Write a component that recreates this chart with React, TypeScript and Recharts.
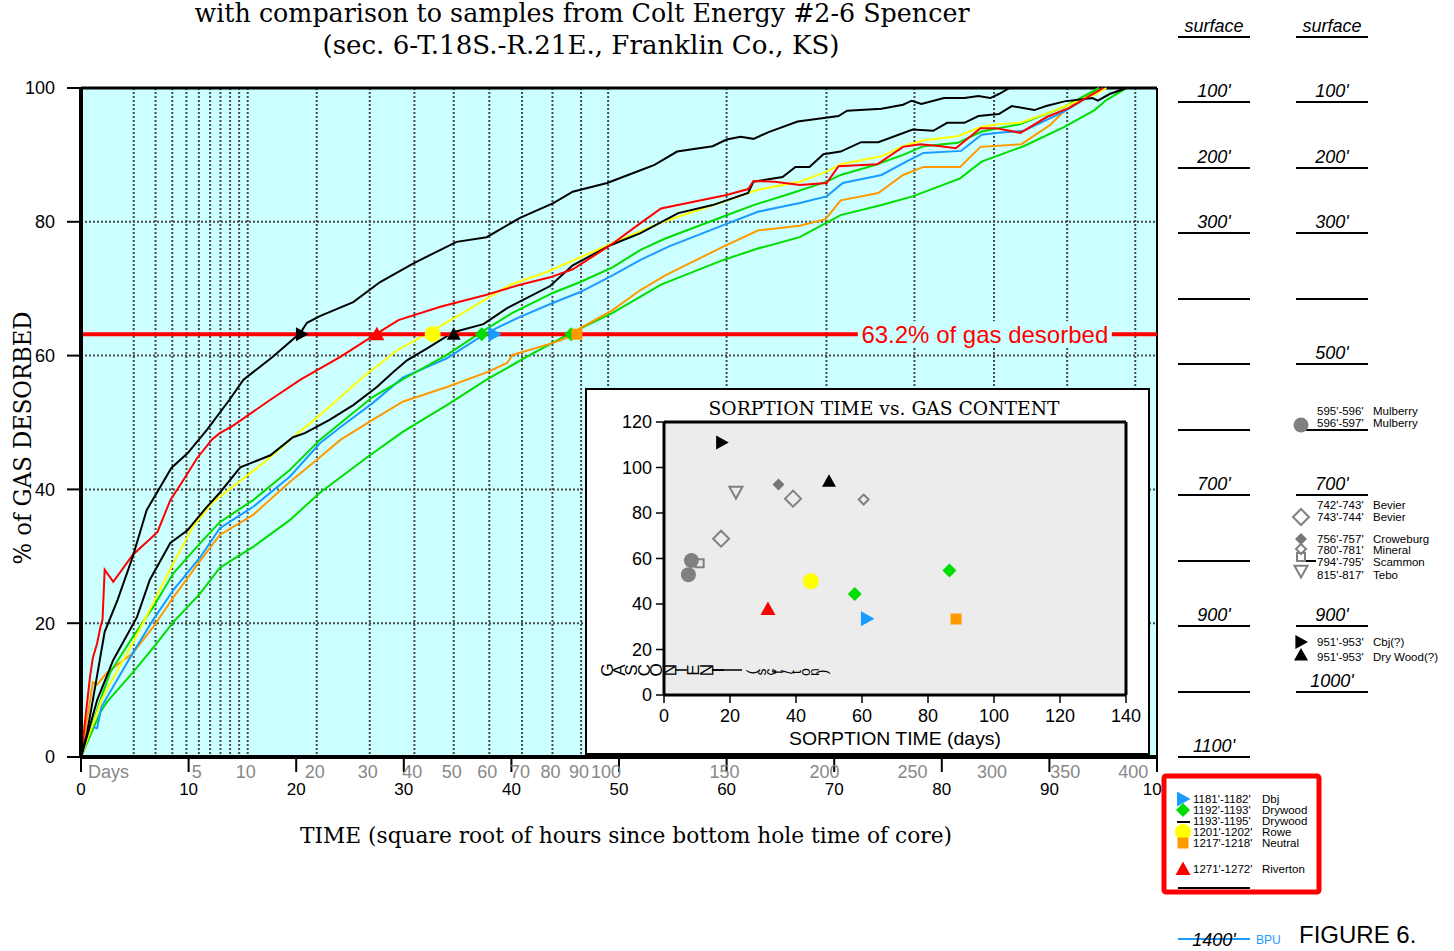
import React from "react"
import { ComposedChart, ScatterChart, Line, Scatter, XAxis, YAxis, CartesianGrid, ReferenceLine } from "recharts"

const SANS = "'Liberation Sans', Arial, Helvetica, sans-serif"
const SERIF = "'DejaVu Serif', 'Liberation Serif', serif"

// desorption curves: [square root of hours, % of gas desorbed]
const cbjCurve = [
  [0, 0], [0.56, 3.6], [1.1, 8.5], [2.2, 18.7], [3.4, 23.5], [4.8, 29.9], [6.1, 36.9], [8.4, 43.2], [9.9, 45.4],
  [11.7, 48.9], [13.8, 53.4], [15.1, 56.4], [17.8, 59.8], [20.4, 63.4], [21.0, 64.9], [22.2, 65.9], [25.3, 68.0],
  [27.8, 71.0], [30.9, 73.8], [34.9, 77.0], [37.7, 77.7], [40.8, 80.6], [43.9, 82.8], [45.7, 84.5], [48.9, 85.8],
  [52.0, 87.7], [53.3, 88.5], [55.4, 90.5], [58.7, 91.3], [60.0, 92.3], [61.3, 92.7], [62.5, 92.4], [63.9, 93.4],
  [66.6, 95.0], [68.0, 95.3], [70.4, 95.8], [71.2, 96.6], [74.4, 96.9], [76.4, 97.5], [77.2, 98.1], [78.1, 97.6],
  [80.2, 98.5], [82.1, 98.5], [83.4, 98.8], [84.5, 98.5], [85.3, 99.1], [86.3, 100],
]
const dryWoodCurve = [
  [0, 0], [0.65, 3.6], [1.5, 8.5], [3.0, 14.5], [5.2, 20.9], [6.4, 26.5], [8.3, 32.0], [9.9, 33.9], [11.7, 37.4],
  [12.9, 39.5], [14.8, 43.3], [17.6, 45.1], [19.7, 47.8], [20.8, 48.4], [23.1, 50.4], [25.3, 52.6], [27.5, 55.3],
  [29.0, 57.5], [30.3, 59.3], [32.4, 61.3], [34.6, 63.5], [37.4, 64.7], [39.6, 67.1], [43.6, 70.4], [45.7, 73.5],
  [49.2, 76.5], [52.0, 78.3], [55.5, 81.3], [58.7, 82.5], [62.0, 84.3], [62.5, 86.0], [65.2, 86.7], [66.4, 88.2],
  [67.7, 88.2], [69.0, 90.1], [70.6, 90.5], [72.5, 91.9], [74.1, 91.9], [77.3, 93.8], [79.2, 93.6], [80.5, 94.8],
  [82.1, 94.8], [83.4, 95.8], [85.3, 96.1], [86.5, 97.3], [88.6, 96.7], [89.7, 97.3], [91.4, 98.0], [94.0, 98.5],
  [94.5, 98.1], [95.6, 99.1], [97.2, 100],
]
const rivertonCurve = [
  [0, 0], [0.84, 12.0], [1.1, 14.8], [1.5, 17.0], [1.8, 19.4], [2.0, 20.5], [2.2, 28.0], [3.0, 26.2], [4.8, 30.2],
  [7.1, 33.6], [8.3, 38.4], [9.4, 41.1], [10.8, 44.7], [12.2, 47.5], [12.9, 48.4], [14.1, 49.5], [17.6, 53.4],
  [20.4, 56.4], [24.1, 59.8], [27.3, 63.1], [29.5, 65.3], [33.4, 67.3], [37.7, 69.1], [40.8, 70.6], [43.6, 71.7],
  [45.7, 72.9], [49.2, 76.5], [52.0, 79.8], [53.9, 82.0], [60.0, 84.0], [62.0, 84.9], [62.5, 86.1], [64.5, 86.0],
  [66.8, 85.5], [69.3, 85.8], [70.4, 88.3], [74.0, 88.6], [76.4, 91.2], [78.0, 91.6], [79.9, 91.3], [81.3, 91.0],
  [83.6, 94.0], [85.0, 94.0], [87.3, 93.3], [89.8, 95.7], [91.8, 97.0], [95.0, 100],
]
const roweCurve = [
  [0, 0], [1.9, 8.5], [2.7, 11.0], [4.8, 17.0], [6.7, 23.0], [8.6, 29.0], [10.4, 34.4], [12.2, 38.0], [14.1, 40.4],
  [17.3, 44.4], [19.7, 47.8], [22.2, 51.1], [26.2, 56.8], [29.4, 60.8], [32.4, 63.5], [35.5, 66.4], [39.9, 70.6],
  [43.3, 72.5], [46.4, 74.7], [49.4, 76.8], [53.9, 79.9], [59.7, 83.0], [62.9, 84.8], [66.8, 86.0], [69.3, 87.5],
  [70.6, 88.6], [74.4, 89.8], [76.4, 91.3], [78.3, 92.2], [81.5, 92.8], [83.7, 94.2], [85.3, 94.6], [87.3, 94.8],
  [89.8, 96.2], [91.8, 97.5], [94.3, 99.1], [95.3, 100],
]
const drywoodUpperCurve = [
  [0, 0], [1.1, 5.0], [1.8, 8.5], [2.7, 12.6], [4.8, 17.9], [6.7, 22.4], [8.6, 27.5], [11.1, 32.0], [12.9, 35.1],
  [16.0, 38.4], [19.4, 42.9], [22.2, 47.4], [24.1, 49.9], [27.1, 53.8], [30.3, 56.8], [34.0, 60.1], [37.1, 63.4],
  [40.1, 66.4], [43.9, 69.4], [46.4, 71.0], [49.4, 73.2], [52.0, 75.8], [54.3, 77.5], [59.7, 80.8], [62.5, 82.5],
  [66.1, 84.3], [69.3, 86.0], [70.6, 87.0], [73.8, 88.5], [76.4, 90.0], [78.3, 91.3], [81.5, 91.8], [83.7, 93.5],
  [87.3, 94.6], [91.4, 97.2], [94.6, 100],
]
const dbjCurve = [
  [0, 0], [1.0, 4.5], [1.5, 4.3], [1.9, 7.5], [2.7, 9.7], [4.8, 15.5], [6.7, 20.5], [8.6, 25.0], [11.1, 29.9],
  [12.9, 34.2], [16.0, 37.4], [19.4, 41.9], [22.2, 46.9], [24.1, 49.3], [27.1, 52.9], [29.9, 56.7], [34.0, 59.6],
  [37.7, 63.4], [40.8, 65.8], [43.9, 67.9], [46.4, 69.5], [49.4, 72.0], [52.0, 74.3], [54.6, 76.3], [59.7, 79.5],
  [62.9, 81.5], [66.8, 82.8], [69.3, 83.8], [70.8, 85.8], [74.4, 87.0], [76.7, 89.0], [78.3, 90.3], [81.8, 90.6],
  [83.7, 93.0], [85.3, 93.3], [87.6, 93.6], [90.1, 95.5], [91.4, 96.5], [95.0, 100],
]
const neutralCurve = [
  [0, 0], [0.7, 7.0], [1.1, 11.2], [1.5, 10.8], [2.4, 12.6], [4.8, 15.5], [6.7, 19.4], [8.6, 23.9], [11.1, 29.4],
  [12.9, 33.2], [16.0, 36.2], [19.4, 41.1], [22.2, 44.8], [24.1, 47.4], [27.1, 50.4], [29.9, 53.1], [34.0, 55.3],
  [37.7, 57.5], [39.6, 58.9], [40.1, 60.1], [43.9, 61.9], [45.4, 62.8], [46.4, 64.1], [49.4, 66.8], [52.0, 69.8],
  [54.3, 72.0], [59.7, 76.3], [62.9, 78.7], [66.8, 79.4], [69.2, 80.4], [70.6, 83.2], [74.1, 84.3], [76.4, 87.0],
  [78.3, 88.2], [81.7, 88.2], [83.6, 91.2], [87.4, 91.6], [90.1, 94.5], [91.4, 96.6], [93.8, 99.0], [94.6, 100],
]
const drywoodLowerCurve = [
  [0, 0], [1.8, 6.7], [2.4, 8.2], [4.8, 12.6], [6.7, 16.3], [8.6, 20.2], [11.1, 24.5], [12.9, 28.3], [16.0, 31.4],
  [19.4, 35.4], [22.2, 39.5], [26.6, 44.8], [29.9, 48.6], [34.0, 52.6], [37.7, 56.4], [41.4, 59.8], [45.2, 63.1],
  [49.4, 66.4], [52.0, 68.8], [53.9, 70.6], [59.7, 74.3], [62.9, 76.0], [66.8, 77.7], [70.6, 81.0], [74.4, 82.5],
  [77.3, 83.8], [81.7, 86.5], [83.7, 89.0], [87.6, 91.3], [91.4, 94.2], [94.2, 96.7], [95.3, 98.2], [97.2, 100],
]

const hourTicks = [0, 10, 20, 30, 40, 50, 60, 70, 80, 90, 100]
const pctTicks = [0, 20, 40, 60, 80, 100]
const gridDays = [1, 2, 3, 4, 5, 6, 7, 8, 9, 10, 20, 30, 40, 50, 60, 70, 80, 90, 100, 150, 200, 250, 300, 350, 400]
const dayLabels = [5, 10, 20, 30, 40, 50, 60, 70, 80, 90, 100, 150, 200, 250, 300, 350, 400]
const desorbedMark = 63.2

// samples: sorption time (days) vs gas content (scf/ton)
const sampleDepths = [
  "595'-596'", "596'-597'", "742'-743'", "743'-744'", "756'-757'", "780'-781'", "794'-795'", "815'-817'",
  "951'-953'", "951'-953'", "1181'-1182'", "1192'-1193'", "1193'-1195'", "1201'-1202'", "1217'-1218'", "1271'-1272'",
]
const sampleNames = [
  "Mulberry", "Mulberry", "Bevier", "Bevier", "Croweburg", "Mineral", "Scammon", "Tebo",
  "Cbj(?)", "Dry Wood(?)", "Dbj", "Drywood", "Drywood", "Rowe", "Neutral", "Riverton",
]
const sorptionDays = [8.3, 7.4, 17.3, 39.1, 34.7, 60.5, 10.8, 21.8, 17.5, 50, 61.5, 57.8, 86.5, 44.5, 88.5, 31.5]
const gasContent = [59.1, 52.9, 68.7, 86.3, 92.5, 85.9, 57.9, 89.2, 111, 94, 33.5, 44.4, 54.7, 50, 33.4, 37.8]
const sorptionTicks = [0, 20, 40, 60, 80, 100, 120, 140]
const gasTicks = [0, 20, 40, 60, 80, 100, 120]

const GRAY = "#808080"
const symbols = [
  { kind: "circle", size: 15, fill: GRAY },
  { kind: "circle", size: 15, fill: GRAY },
  { kind: "diamond", size: 16, fill: "none", stroke: GRAY },
  { kind: "diamond", size: 16, fill: "none", stroke: GRAY },
  { kind: "diamond", size: 12, fill: "#777777" },
  { kind: "diamond", size: 10, fill: "none", stroke: GRAY },
  { kind: "square", size: 8, fill: "none", stroke: GRAY },
  { kind: "triDown", size: 13, fill: "none", stroke: GRAY },
  { kind: "triRight", size: 14, fill: "#000000" },
  { kind: "tri", size: 14, fill: "#000000" },
  { kind: "triRight", size: 15, fill: "#1a9bff" },
  { kind: "diamond", size: 14, fill: "#00dd00" },
  { kind: "diamond", size: 14, fill: "#00dd00" },
  { kind: "circle", size: 16, fill: "#ffff00" },
  { kind: "square", size: 11, fill: "#ff9900" },
  { kind: "tri", size: 15, fill: "#ff0000" },
]

const curves = [
  { sample: 12, points: drywoodLowerCurve, color: "#00dd00" },
  { sample: 14, points: neutralCurve, color: "#ff9900" },
  { sample: 10, points: dbjCurve, color: "#1a9bff" },
  { sample: 11, points: drywoodUpperCurve, color: "#00dd00" },
  { sample: 13, points: roweCurve, color: "#ffff00" },
  { sample: 9, points: dryWoodCurve, color: "#000000" },
  { sample: 15, points: rivertonCurve, color: "#ff0000" },
  { sample: 8, points: cbjCurve, color: "#000000" },
]

function drawSymbol(s: any, cx: number, cy: number, key?: any) {
  const r = s.size / 2
  const p = { fill: s.fill, stroke: s.stroke || "none", strokeWidth: s.stroke ? 2 : 0 }
  if (s.kind === "circle") return <circle key={key} cx={cx} cy={cy} r={r} {...p} />
  if (s.kind === "square") return <rect key={key} x={cx - r} y={cy - r} width={s.size} height={s.size} {...p} />
  if (s.kind === "diamond")
    return <polygon key={key} points={`${cx},${cy - r} ${cx + r},${cy} ${cx},${cy + r} ${cx - r},${cy}`} {...p} />
  if (s.kind === "tri")
    return <polygon key={key} points={`${cx},${cy - r} ${cx + r},${cy + r * 0.8} ${cx - r},${cy + r * 0.8}`} {...p} />
  if (s.kind === "triDown")
    return <polygon key={key} points={`${cx - r},${cy - r * 0.8} ${cx + r},${cy - r * 0.8} ${cx},${cy + r}`} {...p} />
  return <polygon key={key} points={`${cx - r * 0.8},${cy - r} ${cx + r},${cy} ${cx - r * 0.8},${cy + r}`} {...p} />
}

const dayTickValues = [0, ...dayLabels.map((d) => Math.sqrt(24 * d))]

const HourTick = (p: any) => (
  <text x={p.x} y={795} textAnchor="middle" fontSize={17} fontFamily={SANS} fill="#000">
    {p.payload.value}
  </text>
)

const DayTick = (p: any) => {
  const v = p.payload.value
  if (v === 0)
    return (
      <text x={p.x + 7} y={778} fontSize={18} fontFamily={SANS} fill="#888">
        Days
      </text>
    )
  return (
    <text x={p.x - 2} y={778} textAnchor="middle" fontSize={18} fontFamily={SANS} fill="#888">
      {Math.round((v * v) / 24)}
    </text>
  )
}

const dayGrid = ({ xAxis, offset }: any) =>
  gridDays.map((d) => {
    const v = Math.sqrt(24 * d)
    if (xAxis && typeof xAxis.scale === "function") return xAxis.scale(v)
    return offset.left + (v / 100) * offset.width
  })

const HalfLabel = (p: any) => {
  const vb = p.viewBox || { x: 81, y: 333, width: 1076 }
  const cx = vb.x + vb.width * 0.84
  return (
    <g>
      <rect x={cx - 127} y={vb.y - 13} width={254} height={26} fill="#ccffff" />
      <text x={cx} y={vb.y + 9} textAnchor="middle" fill="#ff0000" fontSize={24} fontFamily={SANS}>
        {`${desorbedMark}% of gas desorbed`}
      </text>
    </g>
  )
}

const col1Lines = [37, 102, 168, 233, 299, 364, 430, 495, 561, 626, 692, 757, 888]
const col1Labels: [number, string][] = [
  [37, "surface"], [102, "100'"], [168, "200'"], [233, "300'"], [495, "700'"], [626, "900'"], [757, "1100'"],
]
const col2Lines = [37, 102, 168, 233, 299, 364, 430, 495, 626, 692]
const col2Labels: [number, string][] = [
  [37, "surface"], [102, "100'"], [168, "200'"], [233, "300'"], [364, "500'"], [495, "700'"], [626, "900'"], [692, "1000'"],
]
// legend rows: [sample index, text centre y, symbol y]
const col2Legend: [number, number, number][] = [
  [0, 411, -1], [1, 423, 425], [2, 505, -1], [3, 517, 517], [4, 539, 539], [5, 550, 549], [6, 562, 557], [7, 575, 571],
  [8, 642, 642], [9, 657, 655],
]
const boxLegend: [number, number][] = [
  [10, 799], [11, 810], [12, 821], [13, 832], [14, 843], [15, 869],
]

function Overlay() {
  const chars = "GASCONTENT"
  const small = "(scf/ton)"
  return (
    <svg width={1454} height={951} style={{ position: "absolute", left: 0, top: 0, pointerEvents: "none" }}>
      <text x={582} y={22} textAnchor="middle" fontFamily={SERIF} fontSize={26} textLength={775} lengthAdjust="spacingAndGlyphs">
        with comparison to samples from Colt Energy #2-6 Spencer
      </text>
      <text x={581} y={54} textAnchor="middle" fontFamily={SERIF} fontSize={26} textLength={517} lengthAdjust="spacingAndGlyphs">
        (sec. 6-T.18S.-R.21E., Franklin Co., KS)
      </text>
      <text transform="translate(31 438) rotate(-90)" textAnchor="middle" fontFamily={SERIF} fontSize={25} textLength={253} lengthAdjust="spacingAndGlyphs">
        % of GAS DESORBED
      </text>
      <text x={626} y={843} textAnchor="middle" fontFamily={SERIF} fontSize={22} textLength={652} lengthAdjust="spacingAndGlyphs">
        TIME (square root of hours since bottom hole time of core)
      </text>
      <text x={884} y={415} textAnchor="middle" fontFamily={SERIF} fontSize={19} textLength={351} lengthAdjust="spacingAndGlyphs">
        SORPTION TIME vs. GAS CONTENT
      </text>
      <text x={895} y={745} textAnchor="middle" fontFamily={SANS} fontSize={19} textLength={212} lengthAdjust="spacingAndGlyphs">
        SORPTION TIME (days)
      </text>
      {chars.split("").map((c, i) => (
        <text key={"c" + i} transform={`translate(${607 + i * 12.4} 670) rotate(-90)`} textAnchor="middle" dominantBaseline="central" fontFamily={SANS} fontSize={17}>
          {c}
        </text>
      ))}
      <line x1={712} y1={670} x2={742} y2={670} stroke="#000" strokeWidth={1.5} />
      {small.split("").map((c, i) => (
        <text key={"s" + i} transform={`translate(${752 + i * 8.8} 672) rotate(-90)`} textAnchor="middle" dominantBaseline="central" fontFamily={SANS} fontSize={14}>
          {c}
        </text>
      ))}

      {col1Lines.map((y) => (
        <line key={"a" + y} x1={1178} x2={1250} y1={y} y2={y} stroke="#000" strokeWidth={2} />
      ))}
      {col2Lines.map((y) => (
        <line key={"b" + y} x1={1296} x2={1368} y1={y} y2={y} stroke="#000" strokeWidth={2} />
      ))}
      {col1Labels.map(([y, t]) => (
        <text key={"la" + y} x={1214} y={y - 5} textAnchor="middle" fontFamily={SANS} fontStyle="italic" fontSize={18}>
          {t}
        </text>
      ))}
      {col2Labels.map(([y, t]) => (
        <text key={"lb" + y} x={1332} y={y - 5} textAnchor="middle" fontFamily={SANS} fontStyle="italic" fontSize={18}>
          {t}
        </text>
      ))}
      <line x1={1296} x2={1316} y1={561} y2={561} stroke="#000" strokeWidth={2} />
      {col2Legend.map(([i, ty, sy]) => (
        <g key={"lg" + i}>
          {sy > 0 && drawSymbol(symbols[i], 1301, sy)}
          <text x={1317} y={ty + 4} fontFamily={SANS} fontSize={11.5}>{sampleDepths[i]}</text>
          <text x={1373} y={ty + 4} fontFamily={SANS} fontSize={11.5}>{sampleNames[i]}</text>
        </g>
      ))}

      <rect x={1164} y={776} width={155} height={116} rx={2} fill="#fff" stroke="#ff0000" strokeWidth={5} />
      <line x1={1178} x2={1250} y1={888} y2={888} stroke="#000" strokeWidth={2} />
      {boxLegend.map(([i, y]) => (
        <g key={"bx" + i}>
          {i === 12 ? (
            <line x1={1177} x2={1190} y1={y + 1} y2={y + 1} stroke="#000" strokeWidth={2} />
          ) : (
            drawSymbol(symbols[i], 1183, y)
          )}
          <text x={1193} y={y + 4} fontFamily={SANS} fontSize={11.5}>{sampleDepths[i]}</text>
          <text x={1262} y={y + 4} fontFamily={SANS} fontSize={11.5}>{sampleNames[i]}</text>
        </g>
      ))}

      <line x1={1178} x2={1250} y1={939} y2={939} stroke="#1a9bff" strokeWidth={2} />
      <text x={1214} y={946} textAnchor="middle" fontFamily={SANS} fontStyle="italic" fontSize={18}>1400'</text>
      <text x={1256} y={944} fontFamily={SANS} fontSize={12} fill="#1a9bff">BPU</text>
      <text x={1299} y={943} fontFamily={SANS} fontSize={24}>FIGURE 6.</text>
    </svg>
  )
}

export default function App() {
  const axisLine = { stroke: "#000", strokeWidth: 4 }
  const tickLine = { stroke: "#000", strokeWidth: 2 }
  return (
    <div style={{ position: "relative", width: 1454, height: 951, background: "#fff", overflow: "hidden" }}>
      <style>{"body{margin:0}"}</style>
      <div style={{ position: "absolute", left: 0, top: 0 }}>
        <ComposedChart width={1454} height={951} margin={{ top: 88, right: 297, bottom: 144, left: 21 }}>
          <CartesianGrid
            fill="#ccffff"
            fillOpacity={1}
            stroke="#4a4a4a"
            strokeWidth={2}
            strokeDasharray="2 2"
            verticalCoordinatesGenerator={dayGrid}
          />
          <XAxis
            type="number"
            dataKey="x"
            domain={[0, 100]}
            ticks={hourTicks}
            interval={0}
            height={30}
            tickSize={15}
            axisLine={axisLine}
            tickLine={tickLine}
            tick={HourTick}
          />
          <XAxis
            xAxisId="days"
            type="number"
            dataKey="x"
            domain={[0, 100]}
            ticks={dayTickValues}
            interval={0}
            height={20}
            axisLine={false}
            tickLine={false}
            tick={DayTick}
          />
          <YAxis
            type="number"
            dataKey="y"
            domain={[0, 100]}
            ticks={pctTicks}
            interval={0}
            width={60}
            tickSize={14}
            tickMargin={12}
            axisLine={axisLine}
            tickLine={tickLine}
            tick={{ fill: "#000", fontSize: 18, fontFamily: SANS }}
          />
          <ReferenceLine y={100} stroke="#000" strokeWidth={3} />
          <ReferenceLine x={100} stroke="#000" strokeWidth={2} />
          {curves.map((c, i) => (
            <Line
              key={"l" + i}
              data={c.points.map(([x, y]) => ({ x, y }))}
              dataKey="y"
              type="linear"
              stroke={c.color}
              strokeWidth={2}
              dot={false}
              activeDot={false}
              isAnimationActive={false}
            />
          ))}
          <ReferenceLine y={desorbedMark} stroke="#ff0000" strokeWidth={4} label={HalfLabel} />
          {curves.map((c, i) => (
            <Scatter
              key={"m" + i}
              xAxisId="days"
              data={[{ x: Math.sqrt(24 * sorptionDays[c.sample]), y: desorbedMark }]}
              dataKey="y"
              isAnimationActive={false}
              shape={(p: any) => drawSymbol(symbols[c.sample], p.cx, p.cy)}
            />
          ))}
        </ComposedChart>
      </div>

      <div
        style={{
          position: "absolute",
          left: 585,
          top: 388,
          width: 565,
          height: 367,
          border: "2px solid #000",
          boxSizing: "border-box",
          background: "#fff",
        }}
      >
        <ScatterChart width={561} height={363} margin={{ top: 32, right: 22, bottom: 28, left: 37 }}>
          <CartesianGrid fill="#ececec" fillOpacity={1} horizontal={false} vertical={false} />
          <XAxis
            type="number"
            dataKey="x"
            domain={[0, 140]}
            ticks={sorptionTicks}
            interval={0}
            height={30}
            tickSize={8}
            tickMargin={6}
            axisLine={{ stroke: "#000", strokeWidth: 3 }}
            tickLine={{ stroke: "#000", strokeWidth: 1.5 }}
            tick={{ fill: "#000", fontSize: 18, fontFamily: SANS }}
          />
          <YAxis
            type="number"
            dataKey="y"
            domain={[0, 120]}
            ticks={gasTicks}
            interval={0}
            width={40}
            tickSize={8}
            tickMargin={4}
            axisLine={{ stroke: "#000", strokeWidth: 3 }}
            tickLine={{ stroke: "#000", strokeWidth: 1.5 }}
            tick={{ fill: "#000", fontSize: 18, fontFamily: SANS }}
          />
          <ReferenceLine y={120} stroke="#000" strokeWidth={3} />
          <ReferenceLine x={140} stroke="#000" strokeWidth={3} />
          {sorptionDays.map((d, i) => (
            <Scatter
              key={"s" + i}
              data={[{ x: d, y: gasContent[i] }]}
              dataKey="y"
              isAnimationActive={false}
              shape={(p: any) => drawSymbol(symbols[i], p.cx, p.cy)}
            />
          ))}
        </ScatterChart>
      </div>

      <Overlay />
    </div>
  )
}
